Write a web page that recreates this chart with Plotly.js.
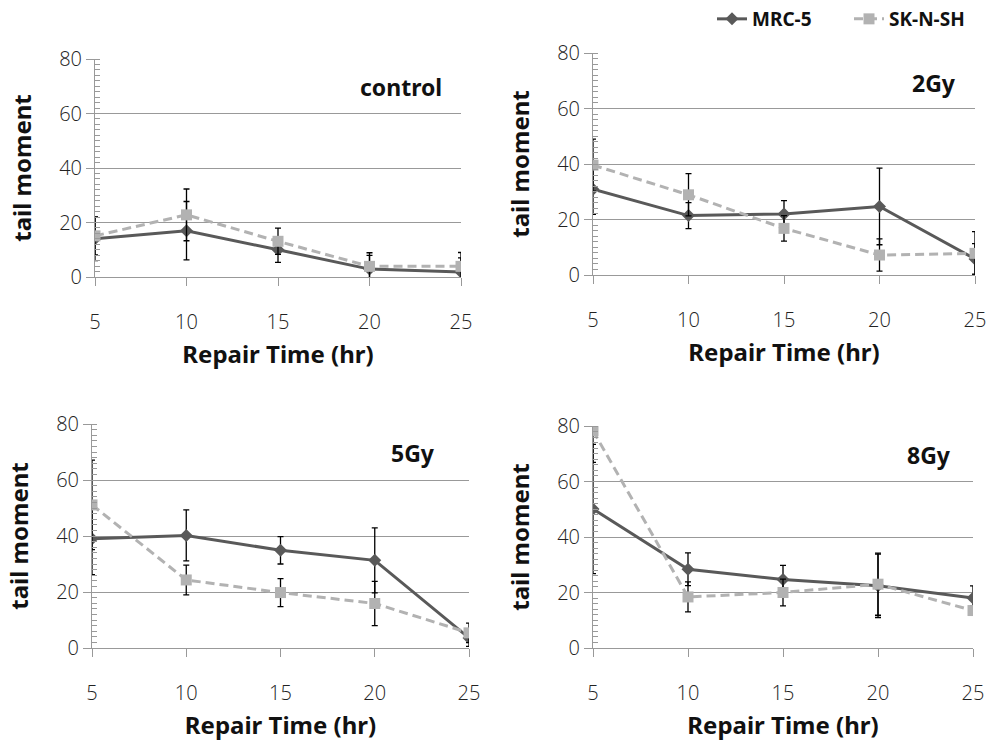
<!DOCTYPE html>
<html>
<head>
<meta charset="utf-8">
<script src="https://cdn.plot.ly/plotly-3.0.1.min.js"></script>
<style>html,body{margin:0;padding:0;background:#fff;}#chart{width:986px;height:742px;}</style>
</head>
<body>
<div id="chart"></div>
<script>
// ---- data ----
const repairTimes = [5, 10, 15, 20, 25];
const seriesNames = ['MRC-5', 'SK-N-SH'];
const panelLabels = ['control', '2Gy', '5Gy', '8Gy'];

const mrcControl = [14.0, 17.0, 10.0, 2.9, 1.8];
const mrcControlErr = [8.0, 10.7, 4.6, 5.0, 5.2];
const skControl = [15.1, 22.8, 13.1, 3.9, 3.9];
const skControlErr = [7.0, 9.5, 4.8, 5.0, 5.1];

const mrc2Gy = [30.9, 21.4, 22.0, 24.7, 5.8];
const mrc2GyErr = [9.0, 4.7, 4.8, 13.8, 5.5];
const sk2Gy = [39.6, 28.9, 16.8, 7.2, 7.8];
const sk2GyErr = [9.4, 7.6, 4.6, 5.8, 7.8];

const mrc5Gy = [39.0, 40.2, 34.9, 31.3, 3.6];
const mrc5GyErr = [12.8, 9.1, 4.9, 11.6, 3.0];
const sk5Gy = [51.1, 24.3, 19.8, 15.9, 5.4];
const sk5GyErr = [16.0, 5.3, 5.0, 7.9, 3.5];

const mrc8Gy = [50.1, 28.4, 24.7, 22.4, 18.0];
const mrc8GyErr = [23.3, 5.9, 5.1, 11.4, 4.4];
const sk8Gy = [78.3, 18.4, 20.0, 23.0, 13.5];
const sk8GyErr = [11.4, 5.4, 4.8, 11.2, 1.7];

const yTickVals = [0, 20, 40, 60, 80];
const xTickVals = [5, 10, 15, 20, 25];

// ---- styling ----
const darkCol = '#595959';
const lightCol = '#b2b2b2';
const gridCol = '#999999';
const textFont = 'Noto Sans, DejaVu Sans, sans-serif';
const tickFontFam = 'Open Sans, Noto Sans, sans-serif';

const panels = [
  {mrc: mrcControl, mrcErr: mrcControlErr, sk: skControl, skErr: skControlErr},
  {mrc: mrc2Gy, mrcErr: mrc2GyErr, sk: sk2Gy, skErr: sk2GyErr},
  {mrc: mrc5Gy, mrcErr: mrc5GyErr, sk: sk5Gy, skErr: sk5GyErr},
  {mrc: mrc8Gy, mrcErr: mrc8GyErr, sk: sk8Gy, skErr: sk8GyErr}
];

const W = 986, H = 742;
// plot areas in pixels: [left, right, top, bottom]
const boxes = [
  [95, 461, 59, 277],
  [593, 975, 53, 275],
  [92, 469, 424, 648],
  [593, 973, 426, 648]
];
const labelPos = [[444, 87], [958, 83], [437, 453], [953, 455]];

const traces = [];
const layout = {
  width: W, height: H,
  margin: {l: 0, r: 0, t: 0, b: 0},
  paper_bgcolor: '#fff', plot_bgcolor: '#fff',
  font: {family: textFont, color: '#111'},
  showlegend: true,
  legend: {
    orientation: 'h', x: 712 / W, xanchor: 'left', y: 1.0, yanchor: 'top',
    font: {family: textFont, size: 19, weight: 'bold', color: '#111'},
    entrywidth: 92, entrywidthmode: 'pixels',
    itemwidth: 30, tracegroupgap: 0, bgcolor: 'rgba(0,0,0,0)'
  },
  annotations: []
};

panels.forEach((p, i) => {
  const n = i + 1;
  const xa = n === 1 ? 'x' : 'x' + n;
  const ya = n === 1 ? 'y' : 'y' + n;
  traces.push({
    type: 'scatter', mode: 'lines+markers', name: seriesNames[0],
    x: repairTimes, y: p.mrc, xaxis: xa, yaxis: ya,
    line: {color: darkCol, width: 3},
    marker: {symbol: 'diamond', size: 10, color: darkCol},
    error_y: {type: 'data', array: p.mrcErr, visible: true, color: '#000', thickness: 1.3, width: 3},
    showlegend: i === 0, legendrank: 1
  });
  traces.push({
    type: 'scatter', mode: 'lines+markers', name: seriesNames[1],
    x: repairTimes, y: p.sk, xaxis: xa, yaxis: ya,
    line: {color: lightCol, width: 3, dash: '9px,5px'},
    marker: {symbol: 'square', size: 11, color: lightCol},
    error_y: {type: 'data', array: p.skErr, visible: true, color: '#000', thickness: 1.3, width: 3},
    showlegend: i === 0, legendrank: 2
  });
  const b = boxes[i];
  const xKey = n === 1 ? 'xaxis' : 'xaxis' + n;
  const yKey = n === 1 ? 'yaxis' : 'yaxis' + n;
  layout[xKey] = {
    domain: [b[0] / W, b[1] / W], anchor: ya,
    range: [5, 25], tickvals: xTickVals, ticktext: xTickVals.map(String),
    showgrid: false, zeroline: false,
    showline: true, linecolor: gridCol, linewidth: 1,
    ticks: 'outside', ticklen: 8, tickcolor: gridCol, tickwidth: 1,
    ticklabelstandoff: 19, ticklabeloverflow: 'allow',
    tickfont: {family: tickFontFam, size: 20, weight: 300, color: '#222'},
    title: {text: 'Repair Time (hr)', standoff: 12,
            font: {family: textFont, size: 24, weight: 'bold', color: '#111'}},
    fixedrange: true
  };
  layout[yKey] = {
    domain: [1 - b[3] / H, 1 - b[2] / H], anchor: xa,
    range: [0, 80], tickvals: yTickVals, ticktext: yTickVals.map(String),
    showgrid: true, gridcolor: gridCol, gridwidth: 1, zeroline: false,
    showline: true, linecolor: gridCol, linewidth: 1,
    ticks: 'outside', ticklen: 8, tickcolor: gridCol, tickwidth: 1,
    ticklabeloverflow: 'allow',
    minor: {dtick: 2, ticks: 'inside', ticklen: 5, tickcolor: gridCol, showgrid: false},
    tickfont: {family: tickFontFam, size: 20, weight: 300, color: '#222'},
    title: {text: 'tail moment', standoff: 20,
            font: {family: textFont, size: 24, weight: 'bold', color: '#111'}},
    fixedrange: true
  };
  layout.annotations.push({
    text: panelLabels[i], xref: 'paper', yref: 'paper',
    x: labelPos[i][0] / W, y: 1 - labelPos[i][1] / H,
    xanchor: 'right', yanchor: 'middle', showarrow: false,
    font: {family: textFont, size: 23, weight: 'bold', color: '#111'}
  });
});

Plotly.newPlot('chart', traces, layout, {displayModeBar: false, staticPlot: true});
</script>
</body>
</html>
